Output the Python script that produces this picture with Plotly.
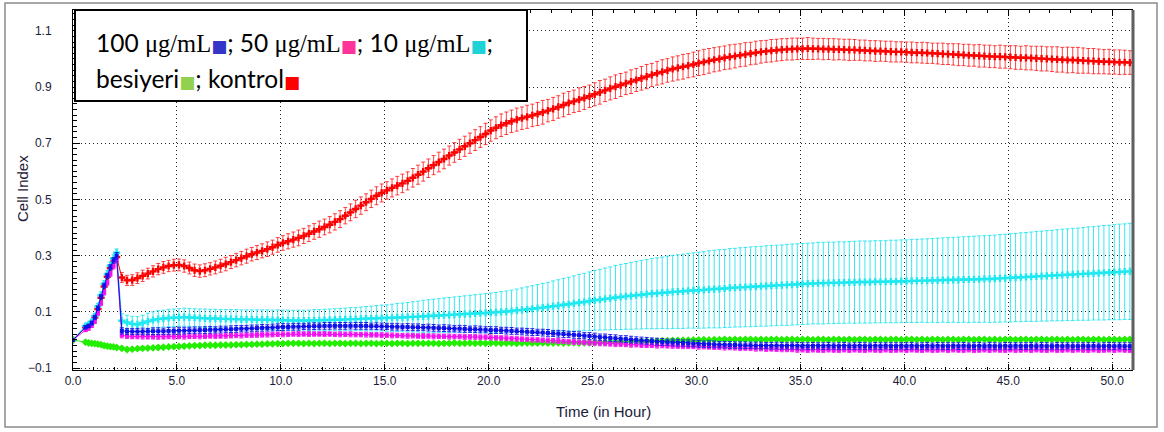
import plotly.graph_objects as go

# ---------------- DATA ----------------
# Early (seeding) phase times in hours, then regular sweeps every 0.25 h
EARLY_TIMES = [0.0, 0.6, 0.75, 0.9, 1.05, 1.2, 1.35, 1.5, 1.65, 1.8, 1.95, 2.1]
SWEEP_START_H = 2.35
SWEEP_STEP_H = 0.25
SWEEP_COUNT = 195
TIMES = EARLY_TIMES + [round(SWEEP_START_H + SWEEP_STEP_H * i, 2) for i in range(SWEEP_COUNT)]

SERIES_NAMES = ["100 μg/mL", "50 μg/mL", "10 μg/mL", "besiyeri", "kontrol"]

# kontrol (red)
KONTROL = [
    0.0, 0.045, 0.05, 0.06, 0.08, 0.11, 0.15, 0.19, 0.225, 0.255, 0.278, 0.295,
    0.222, 0.212, 0.213,
    0.220, 0.228, 0.236, 0.244, 0.252, 0.258, 0.263, 0.266, 0.267, 0.263, 0.256, 0.248,
    0.245, 0.248, 0.253, 0.258, 0.264, 0.270, 0.277, 0.284, 0.291, 0.298, 0.305, 0.311,
    0.317, 0.323, 0.330, 0.338, 0.345, 0.351, 0.357, 0.363, 0.370, 0.378, 0.386, 0.394,
    0.402, 0.410, 0.420, 0.430, 0.442, 0.454, 0.466, 0.478, 0.490, 0.502, 0.513, 0.523,
    0.532, 0.541, 0.549, 0.557, 0.566, 0.577, 0.588, 0.599, 0.611, 0.622, 0.633, 0.644,
    0.656, 0.667, 0.678, 0.689, 0.700, 0.711, 0.722, 0.733, 0.745, 0.755, 0.764, 0.771,
    0.778, 0.784, 0.789, 0.794, 0.799, 0.804, 0.810, 0.816, 0.822, 0.829, 0.836, 0.843,
    0.849, 0.855, 0.861, 0.867, 0.874, 0.881, 0.888, 0.895, 0.901, 0.907, 0.913, 0.919,
    0.925, 0.931, 0.937, 0.943, 0.949, 0.954, 0.959, 0.964, 0.968, 0.972, 0.976, 0.980,
    0.985, 0.989, 0.993, 0.997, 1.000, 1.004, 1.007, 1.010, 1.013, 1.016, 1.019, 1.022,
    1.025, 1.027, 1.029, 1.031, 1.033, 1.034, 1.035, 1.036, 1.036, 1.037, 1.036, 1.036,
    1.035, 1.035, 1.034, 1.034, 1.033, 1.032, 1.032, 1.031, 1.030, 1.029, 1.028, 1.028,
    1.027, 1.026, 1.025, 1.025, 1.024, 1.023, 1.022, 1.022, 1.021, 1.020, 1.019, 1.018,
    1.017, 1.016, 1.015, 1.014, 1.013, 1.012, 1.011, 1.010, 1.009, 1.008, 1.008, 1.007,
    1.006, 1.005, 1.004, 1.004, 1.003, 1.002, 1.001, 1.000, 0.999, 0.998, 0.997, 0.996,
    0.996, 0.995, 0.994, 0.993, 0.992, 0.991, 0.990, 0.990, 0.989, 0.988, 0.988, 0.987,
]
KONTROL_ERR = [
    0.0, 0.008, 0.008, 0.008, 0.009, 0.010, 0.010, 0.012, 0.012, 0.013, 0.014, 0.015,
    0.018, 0.018, 0.019,
    0.019, 0.020, 0.019, 0.020, 0.020, 0.021, 0.020, 0.021, 0.021, 0.022, 0.021, 0.022,
    0.022, 0.023, 0.022, 0.023, 0.023, 0.024, 0.023, 0.024, 0.024, 0.025, 0.024, 0.025,
    0.025, 0.026, 0.025, 0.026, 0.026, 0.027, 0.027, 0.028, 0.027, 0.028, 0.028, 0.029,
    0.028, 0.029, 0.029, 0.030, 0.029, 0.030, 0.031, 0.031, 0.030, 0.031, 0.032, 0.032,
    0.031, 0.032, 0.033, 0.033, 0.032, 0.033, 0.034, 0.034, 0.033, 0.034, 0.035, 0.035,
    0.034, 0.035, 0.036, 0.036, 0.036, 0.037, 0.037, 0.038, 0.038, 0.039, 0.040, 0.040,
    0.040, 0.041, 0.040, 0.041, 0.040, 0.041, 0.042, 0.040, 0.041, 0.040, 0.042, 0.041,
    0.040, 0.042, 0.041, 0.040, 0.041, 0.042, 0.040, 0.041, 0.042, 0.041, 0.040, 0.042,
    0.041, 0.042, 0.043, 0.041, 0.042, 0.043, 0.042, 0.043, 0.043, 0.044, 0.043, 0.044,
    0.044, 0.045, 0.044, 0.043, 0.043, 0.042, 0.043, 0.042, 0.041, 0.042, 0.040, 0.041,
    0.040, 0.039, 0.040, 0.039, 0.039, 0.038, 0.039, 0.038, 0.038, 0.039, 0.038, 0.037,
    0.038, 0.037, 0.038, 0.037, 0.037, 0.038, 0.037, 0.036, 0.037, 0.036, 0.037, 0.036,
    0.036, 0.037, 0.036, 0.036, 0.036, 0.037, 0.036, 0.037, 0.037, 0.036, 0.037, 0.038,
    0.037, 0.038, 0.039, 0.038, 0.039, 0.038, 0.040, 0.039, 0.040, 0.039, 0.041, 0.040,
    0.041, 0.042, 0.041, 0.043, 0.042, 0.043, 0.044, 0.043, 0.044, 0.045, 0.044, 0.046,
    0.045, 0.046, 0.045, 0.044, 0.045, 0.044, 0.043, 0.044, 0.043, 0.044, 0.043, 0.042,
]

# 10 µg/mL (cyan)
DOSE_10 = [
    0.0, 0.05, 0.055, 0.065, 0.085, 0.12, 0.16, 0.20, 0.235, 0.265, 0.29, 0.31,
    0.068, 0.062, 0.057,
    0.055, 0.060, 0.066, 0.071, 0.074, 0.076, 0.078, 0.079, 0.080, 0.081, 0.080, 0.079,
    0.078, 0.077, 0.076, 0.076, 0.075, 0.075, 0.074, 0.074, 0.073, 0.073, 0.073, 0.072,
    0.072, 0.072, 0.071, 0.071, 0.070, 0.070, 0.069, 0.069, 0.069, 0.069, 0.070, 0.070,
    0.071, 0.071, 0.072, 0.072, 0.073, 0.074, 0.074, 0.075, 0.076, 0.076, 0.077, 0.078,
    0.078, 0.079, 0.080, 0.080, 0.081, 0.082, 0.083, 0.084, 0.085, 0.086, 0.087, 0.088,
    0.089, 0.090, 0.091, 0.092, 0.093, 0.094, 0.095, 0.096, 0.097, 0.098, 0.100, 0.101,
    0.103, 0.105, 0.107, 0.109, 0.111, 0.113, 0.115, 0.117, 0.120, 0.122, 0.125, 0.127,
    0.130, 0.133, 0.135, 0.138, 0.141, 0.143, 0.146, 0.148, 0.151, 0.153, 0.155, 0.157,
    0.159, 0.161, 0.163, 0.165, 0.166, 0.168, 0.169, 0.171, 0.172, 0.173, 0.175, 0.176,
    0.177, 0.178, 0.180, 0.181, 0.182, 0.183, 0.185, 0.186, 0.187, 0.188, 0.189, 0.190,
    0.191, 0.192, 0.193, 0.194, 0.195, 0.196, 0.197, 0.198, 0.199, 0.200, 0.201, 0.202,
    0.202, 0.203, 0.203, 0.204, 0.204, 0.205, 0.205, 0.206, 0.206, 0.206, 0.207, 0.207,
    0.207, 0.208, 0.208, 0.209, 0.209, 0.210, 0.210, 0.211, 0.211, 0.212, 0.212, 0.213,
    0.213, 0.214, 0.214, 0.215, 0.215, 0.216, 0.216, 0.217, 0.217, 0.218, 0.219, 0.220,
    0.221, 0.222, 0.223, 0.224, 0.225, 0.226, 0.227, 0.228, 0.229, 0.230, 0.231, 0.232,
    0.233, 0.234, 0.235, 0.236, 0.237, 0.238, 0.239, 0.240, 0.241, 0.242, 0.243, 0.244,
]
DOSE_10_ERR = [
    0.0, 0.006, 0.006, 0.007, 0.008, 0.009, 0.010, 0.011, 0.012, 0.012, 0.013, 0.014,
    0.025, 0.026, 0.027,
    0.028, 0.028, 0.029, 0.029, 0.030, 0.030, 0.031, 0.031, 0.031, 0.032, 0.032, 0.032,
    0.032, 0.033, 0.033, 0.033, 0.033, 0.033, 0.034, 0.034, 0.034, 0.034, 0.034, 0.035,
    0.035, 0.035, 0.035, 0.036, 0.036, 0.036, 0.036, 0.037, 0.037, 0.037, 0.038, 0.038,
    0.038, 0.039, 0.039, 0.040, 0.040, 0.041, 0.041, 0.042, 0.043, 0.044, 0.045, 0.046,
    0.047, 0.048, 0.050, 0.051, 0.052, 0.054, 0.055, 0.057, 0.058, 0.059, 0.060, 0.061,
    0.062, 0.063, 0.064, 0.065, 0.066, 0.067, 0.068, 0.069, 0.070, 0.071, 0.072, 0.073,
    0.074, 0.076, 0.078, 0.080, 0.082, 0.084, 0.086, 0.088, 0.090, 0.092, 0.094, 0.096,
    0.098, 0.100, 0.102, 0.104, 0.106, 0.108, 0.110, 0.112, 0.114, 0.116, 0.117, 0.119,
    0.120, 0.122, 0.123, 0.125, 0.126, 0.127, 0.129, 0.130, 0.131, 0.132, 0.133, 0.134,
    0.135, 0.136, 0.137, 0.138, 0.139, 0.139, 0.140, 0.140, 0.141, 0.141, 0.142, 0.142,
    0.142, 0.143, 0.143, 0.143, 0.143, 0.144, 0.144, 0.144, 0.144, 0.144, 0.144, 0.145,
    0.145, 0.145, 0.145, 0.145, 0.145, 0.145, 0.146, 0.146, 0.146, 0.146, 0.146, 0.146,
    0.146, 0.147, 0.147, 0.147, 0.147, 0.148, 0.148, 0.148, 0.149, 0.149, 0.150, 0.150,
    0.151, 0.151, 0.152, 0.152, 0.153, 0.153, 0.154, 0.154, 0.155, 0.155, 0.156, 0.156,
    0.157, 0.157, 0.158, 0.158, 0.159, 0.160, 0.160, 0.161, 0.161, 0.162, 0.163, 0.163,
    0.164, 0.164, 0.165, 0.166, 0.166, 0.167, 0.168, 0.168, 0.169, 0.170, 0.170, 0.171,
]

# 100 µg/mL (blue)
DOSE_100 = [
    0.0, 0.045, 0.05, 0.06, 0.08, 0.113, 0.153, 0.193, 0.228, 0.258, 0.283, 0.30,
    0.032, 0.030, 0.030,
    0.030, 0.030, 0.030, 0.031, 0.031, 0.031, 0.032, 0.032, 0.033, 0.033, 0.034, 0.034,
    0.035, 0.035, 0.036, 0.036, 0.037, 0.038, 0.038, 0.039, 0.040, 0.040, 0.041, 0.042,
    0.043, 0.043, 0.044, 0.045, 0.046, 0.046, 0.047, 0.047, 0.048, 0.048, 0.049, 0.049,
    0.050, 0.050, 0.050, 0.050, 0.050, 0.050, 0.050, 0.050, 0.050, 0.049, 0.049, 0.048,
    0.048, 0.047, 0.047, 0.046, 0.046, 0.045, 0.045, 0.044, 0.044, 0.043, 0.042, 0.042,
    0.041, 0.040, 0.040, 0.039, 0.038, 0.038, 0.037, 0.036, 0.035, 0.035, 0.034, 0.033,
    0.032, 0.031, 0.030, 0.029, 0.028, 0.027, 0.026, 0.025, 0.023, 0.022, 0.021, 0.020,
    0.018, 0.017, 0.015, 0.014, 0.012, 0.010, 0.009, 0.007, 0.006, 0.004, 0.003, 0.001,
    0.000, -0.002, -0.003, -0.004, -0.006, -0.007, -0.008, -0.009, -0.010, -0.011, -0.012, -0.013,
    -0.014, -0.015, -0.015, -0.016, -0.017, -0.017, -0.018, -0.018, -0.019, -0.019, -0.019, -0.020,
    -0.020, -0.020, -0.021, -0.020, -0.021, -0.021, -0.020, -0.021, -0.021, -0.022, -0.021, -0.021,
    -0.022, -0.021, -0.022, -0.022, -0.021, -0.022, -0.022, -0.021, -0.022, -0.022, -0.021, -0.022,
    -0.021, -0.022, -0.022, -0.021, -0.022, -0.021, -0.022, -0.022, -0.021, -0.022, -0.021, -0.022,
    -0.022, -0.021, -0.022, -0.021, -0.022, -0.022, -0.021, -0.022, -0.021, -0.022, -0.022, -0.021,
    -0.022, -0.021, -0.022, -0.022, -0.021, -0.022, -0.021, -0.022, -0.022, -0.021, -0.022, -0.021,
    -0.022, -0.022, -0.021, -0.022, -0.021, -0.022, -0.022, -0.021, -0.022, -0.021, -0.022, -0.022,
]
DOSE_100_ERR = [
    0.0, 0.006, 0.006, 0.007, 0.007, 0.008, 0.008, 0.009, 0.009, 0.010, 0.010, 0.011,
    0.011, 0.011, 0.011,
    0.011, 0.012, 0.011, 0.012, 0.012, 0.011, 0.012, 0.011, 0.012, 0.012, 0.011, 0.012,
    0.011, 0.012, 0.012, 0.011, 0.012, 0.011, 0.012, 0.012, 0.011, 0.012, 0.012, 0.011,
    0.012, 0.011, 0.012, 0.012, 0.012, 0.011, 0.012, 0.012, 0.011, 0.012, 0.012, 0.011,
    0.012, 0.012, 0.011, 0.012, 0.012, 0.011, 0.012, 0.012, 0.012, 0.011, 0.012, 0.012,
    0.011, 0.012, 0.012, 0.011, 0.012, 0.012, 0.012, 0.011, 0.012, 0.012, 0.011, 0.012,
    0.012, 0.011, 0.012, 0.012, 0.011, 0.012, 0.012, 0.011, 0.012, 0.012, 0.011, 0.012,
    0.012, 0.011, 0.012, 0.012, 0.012, 0.011, 0.012, 0.012, 0.011, 0.012, 0.012, 0.011,
    0.012, 0.012, 0.011, 0.012, 0.012, 0.011, 0.012, 0.012, 0.012, 0.011, 0.012, 0.012,
    0.011, 0.012, 0.012, 0.011, 0.012, 0.012, 0.011, 0.012, 0.012, 0.011, 0.012, 0.012,
    0.012, 0.011, 0.012, 0.012, 0.011, 0.012, 0.012, 0.011, 0.012, 0.012, 0.011, 0.012,
    0.012, 0.011, 0.012, 0.012, 0.012, 0.011, 0.012, 0.012, 0.011, 0.012, 0.012, 0.011,
    0.012, 0.012, 0.011, 0.012, 0.012, 0.011, 0.012, 0.012, 0.012, 0.011, 0.012, 0.012,
    0.011, 0.012, 0.012, 0.011, 0.012, 0.012, 0.011, 0.012, 0.012, 0.011, 0.012, 0.012,
    0.012, 0.011, 0.012, 0.012, 0.011, 0.012, 0.012, 0.011, 0.012, 0.012, 0.011, 0.012,
    0.012, 0.011, 0.012, 0.012, 0.012, 0.011, 0.012, 0.012, 0.011, 0.012, 0.012, 0.011,
    0.012, 0.012, 0.011, 0.012, 0.012, 0.011, 0.012, 0.012, 0.012, 0.011, 0.012, 0.012,
]

# 50 µg/mL (magenta)
DOSE_50 = [
    0.0, 0.035, 0.04, 0.05, 0.065, 0.095, 0.13, 0.168, 0.203, 0.235, 0.262, 0.285,
    0.016, 0.013, 0.012,
    0.012, 0.012, 0.011, 0.011, 0.011, 0.011, 0.012, 0.012, 0.012, 0.012, 0.013, 0.013,
    0.013, 0.013, 0.014, 0.014, 0.014, 0.015, 0.015, 0.016, 0.016, 0.017, 0.017, 0.018,
    0.018, 0.019, 0.019, 0.020, 0.020, 0.020, 0.021, 0.021, 0.021, 0.021, 0.021, 0.021,
    0.021, 0.021, 0.020, 0.020, 0.020, 0.020, 0.019, 0.019, 0.019, 0.018, 0.018, 0.017,
    0.017, 0.016, 0.016, 0.015, 0.015, 0.015, 0.014, 0.014, 0.014, 0.013, 0.013, 0.013,
    0.012, 0.012, 0.012, 0.011, 0.011, 0.011, 0.010, 0.010, 0.009, 0.008, 0.007, 0.006,
    0.005, 0.004, 0.003, 0.002, 0.001, 0.000, -0.001, -0.002, -0.003, -0.004, -0.005, -0.006,
    -0.007, -0.008, -0.009, -0.010, -0.011, -0.012, -0.013, -0.014, -0.015, -0.015, -0.016, -0.017,
    -0.017, -0.018, -0.019, -0.019, -0.020, -0.020, -0.021, -0.021, -0.022, -0.022, -0.023, -0.023,
    -0.024, -0.024, -0.025, -0.025, -0.026, -0.027, -0.027, -0.028, -0.029, -0.029, -0.030, -0.031,
    -0.031, -0.032, -0.032, -0.033, -0.033, -0.034, -0.034, -0.035, -0.035, -0.036, -0.035, -0.036,
    -0.036, -0.035, -0.036, -0.036, -0.035, -0.036, -0.035, -0.036, -0.036, -0.035, -0.036, -0.036,
    -0.035, -0.036, -0.036, -0.035, -0.036, -0.035, -0.036, -0.036, -0.035, -0.036, -0.036, -0.035,
    -0.036, -0.035, -0.036, -0.036, -0.035, -0.036, -0.036, -0.035, -0.036, -0.035, -0.036, -0.036,
    -0.035, -0.036, -0.036, -0.035, -0.036, -0.035, -0.036, -0.036, -0.035, -0.036, -0.036, -0.035,
    -0.036, -0.035, -0.036, -0.036, -0.035, -0.036, -0.036, -0.035, -0.036, -0.035, -0.036, -0.036,
]
DOSE_50_ERR = [
    0.0, 0.005, 0.005, 0.006, 0.006, 0.007, 0.007, 0.008, 0.008, 0.009, 0.009, 0.010,
    0.009, 0.008, 0.008,
    0.008, 0.009, 0.008, 0.008, 0.009, 0.008, 0.008, 0.009, 0.008, 0.009, 0.008, 0.008,
    0.009, 0.008, 0.008, 0.009, 0.008, 0.009, 0.008, 0.008, 0.009, 0.008, 0.008, 0.009,
    0.008, 0.009, 0.008, 0.008, 0.009, 0.008, 0.008, 0.009, 0.008, 0.009, 0.008, 0.008,
    0.009, 0.008, 0.008, 0.009, 0.008, 0.009, 0.008, 0.008, 0.009, 0.008, 0.008, 0.009,
    0.008, 0.009, 0.008, 0.008, 0.009, 0.008, 0.008, 0.009, 0.008, 0.009, 0.008, 0.008,
    0.009, 0.008, 0.008, 0.009, 0.008, 0.009, 0.008, 0.008, 0.009, 0.008, 0.008, 0.009,
    0.008, 0.009, 0.008, 0.008, 0.009, 0.008, 0.008, 0.009, 0.008, 0.009, 0.008, 0.008,
    0.009, 0.008, 0.008, 0.009, 0.008, 0.009, 0.008, 0.008, 0.009, 0.008, 0.008, 0.009,
    0.008, 0.009, 0.008, 0.008, 0.009, 0.008, 0.008, 0.009, 0.008, 0.009, 0.008, 0.008,
    0.009, 0.008, 0.008, 0.009, 0.008, 0.009, 0.008, 0.008, 0.009, 0.008, 0.008, 0.009,
    0.008, 0.009, 0.008, 0.008, 0.009, 0.008, 0.008, 0.009, 0.008, 0.009, 0.008, 0.008,
    0.009, 0.008, 0.008, 0.009, 0.008, 0.009, 0.008, 0.008, 0.009, 0.008, 0.008, 0.009,
    0.008, 0.009, 0.008, 0.008, 0.009, 0.008, 0.008, 0.009, 0.008, 0.009, 0.008, 0.008,
    0.009, 0.008, 0.008, 0.009, 0.008, 0.009, 0.008, 0.008, 0.009, 0.008, 0.008, 0.009,
    0.008, 0.009, 0.008, 0.008, 0.009, 0.008, 0.008, 0.009, 0.008, 0.009, 0.008, 0.008,
    0.009, 0.008, 0.008, 0.009, 0.008, 0.009, 0.008, 0.008, 0.009, 0.008, 0.008, 0.009,
]

# besiyeri / medium (green)
BESIYERI = [
    0.0, -0.008, -0.011, -0.012, -0.013, -0.015, -0.017, -0.020, -0.022, -0.024, -0.025, -0.027,
    -0.030, -0.034, -0.033,
    -0.031, -0.030, -0.029, -0.028, -0.027, -0.026, -0.025, -0.024, -0.023, -0.022, -0.021, -0.020,
    -0.020, -0.019, -0.019, -0.019, -0.018, -0.018, -0.018, -0.017, -0.017, -0.016, -0.016, -0.015,
    -0.015, -0.014, -0.014, -0.013, -0.013, -0.012, -0.012, -0.012, -0.013, -0.012, -0.013, -0.012,
    -0.012, -0.013, -0.012, -0.012, -0.013, -0.012, -0.012, -0.013, -0.012, -0.012, -0.013, -0.012,
    -0.012, -0.013, -0.012, -0.012, -0.013, -0.012, -0.012, -0.012, -0.012, -0.012, -0.013, -0.012,
    -0.012, -0.011, -0.012, -0.012, -0.011, -0.012, -0.011, -0.012, -0.011, -0.011, -0.012, -0.011,
    -0.011, -0.012, -0.011, -0.011, -0.011, -0.011, -0.010, -0.011, -0.011, -0.010, -0.011, -0.010,
    -0.010, -0.011, -0.010, -0.010, -0.010, -0.009, -0.009, -0.008, -0.008, -0.007, -0.007, -0.006,
    -0.006, -0.005, -0.005, -0.004, -0.004, -0.003, -0.003, -0.002, -0.002, -0.001, -0.001, 0.000,
    0.000, 0.001, 0.000, 0.001, 0.001, 0.002, 0.001, 0.002, 0.001, 0.002, 0.002, 0.001,
    0.002, 0.001, 0.002, 0.002, 0.001, 0.002, 0.002, 0.001, 0.002, 0.002, 0.001, 0.002,
    0.002, 0.001, 0.002, 0.002, 0.001, 0.002, 0.001, 0.002, 0.002, 0.001, 0.002, 0.002,
    0.001, 0.002, 0.002, 0.001, 0.002, 0.002, 0.001, 0.002, 0.001, 0.002, 0.002, 0.001,
    0.002, 0.002, 0.001, 0.002, 0.002, 0.001, 0.002, 0.002, 0.001, 0.002, 0.001, 0.002,
    0.002, 0.001, 0.002, 0.002, 0.001, 0.002, 0.002, 0.001, 0.002, 0.002, 0.001, 0.002,
    0.001, 0.002, 0.002, 0.001, 0.002, 0.002, 0.001, 0.002, 0.002, 0.001, 0.002, 0.002,
]
BESIYERI_ERR = [
    0.0, 0.004, 0.004, 0.004, 0.004, 0.005, 0.005, 0.005, 0.005, 0.005, 0.005, 0.005,
    0.006, 0.006, 0.005,
    0.005, 0.006, 0.005, 0.005, 0.006, 0.005, 0.005, 0.006, 0.005, 0.006, 0.005, 0.005,
    0.006, 0.005, 0.005, 0.006, 0.005, 0.006, 0.005, 0.005, 0.006, 0.005, 0.005, 0.006,
    0.005, 0.006, 0.005, 0.005, 0.006, 0.005, 0.005, 0.006, 0.005, 0.006, 0.005, 0.005,
    0.006, 0.005, 0.005, 0.006, 0.005, 0.006, 0.005, 0.005, 0.006, 0.005, 0.005, 0.006,
    0.005, 0.006, 0.005, 0.005, 0.006, 0.005, 0.005, 0.006, 0.005, 0.006, 0.005, 0.005,
    0.006, 0.005, 0.005, 0.006, 0.005, 0.006, 0.005, 0.005, 0.006, 0.005, 0.005, 0.006,
    0.005, 0.006, 0.005, 0.005, 0.006, 0.005, 0.005, 0.006, 0.005, 0.006, 0.005, 0.005,
    0.006, 0.005, 0.005, 0.006, 0.005, 0.006, 0.005, 0.005, 0.006, 0.005, 0.005, 0.006,
    0.005, 0.006, 0.005, 0.005, 0.006, 0.005, 0.005, 0.006, 0.005, 0.006, 0.005, 0.005,
    0.006, 0.005, 0.005, 0.006, 0.005, 0.006, 0.005, 0.005, 0.006, 0.005, 0.005, 0.006,
    0.005, 0.006, 0.005, 0.005, 0.006, 0.005, 0.005, 0.006, 0.005, 0.006, 0.005, 0.005,
    0.006, 0.005, 0.005, 0.006, 0.005, 0.006, 0.005, 0.005, 0.006, 0.005, 0.005, 0.006,
    0.005, 0.006, 0.005, 0.005, 0.006, 0.005, 0.005, 0.006, 0.005, 0.006, 0.005, 0.005,
    0.006, 0.005, 0.005, 0.006, 0.005, 0.006, 0.005, 0.005, 0.006, 0.005, 0.005, 0.006,
    0.005, 0.006, 0.005, 0.005, 0.006, 0.005, 0.005, 0.006, 0.005, 0.006, 0.005, 0.005,
    0.006, 0.005, 0.005, 0.006, 0.005, 0.006, 0.005, 0.005, 0.006, 0.005, 0.005, 0.006,
]

X_TICKS = [0, 5, 10, 15, 20, 25, 30, 35, 40, 45, 50]
Y_TICKS = [-0.1, 0.1, 0.3, 0.5, 0.7, 0.9, 1.1]

# ---------------- FIGURE ----------------
fig = go.Figure()


def add_series(y, err, name, line_color, err_color, symbol, size):
    n = min(len(TIMES), len(y), len(err))
    fig.add_trace(go.Scatter(
        x=TIMES[:n], y=y[:n], name=name, mode="lines+markers",
        line=dict(color=line_color, width=1),
        marker=dict(symbol=symbol, size=size, color=line_color, line=dict(width=0)),
        error_y=dict(type="data", array=err[:n], visible=True,
                     color=err_color, thickness=1, width=2),
        showlegend=False,
    ))


add_series(KONTROL, KONTROL_ERR, SERIES_NAMES[4], "#ff0000", "rgba(255,20,20,0.8)", "cross", 6)
add_series(DOSE_10, DOSE_10_ERR, SERIES_NAMES[2], "#1ee8f0", "rgba(40,230,240,0.9)", "cross", 6)
add_series(BESIYERI, BESIYERI_ERR, SERIES_NAMES[3], "#22ee00", "#33ee11", "diamond", 6)
add_series(DOSE_50, DOSE_50_ERR, SERIES_NAMES[1], "#f010f0", "#f030f0", "square", 4)
add_series(DOSE_100, DOSE_100_ERR, SERIES_NAMES[0], "#1010e8", "#2020ee", "square", 4)

L, R, T, B = 73, 31, 10, 62
W, H = 1164, 432
PW, PH = W - L - R, H - T - B


def px(xp):
    return (xp - L) / PW


def py(yp):
    return (H - B - yp) / PH


tick_font = dict(family="Liberation Sans, Arial, sans-serif", size=12, color="#1c1c38")

fig.update_layout(
    width=W, height=H,
    margin=dict(l=L, r=R, t=T, b=B, autoexpand=False),
    paper_bgcolor="white", plot_bgcolor="white",
    xaxis=dict(
        range=[0, 51.0], tickvals=X_TICKS, tickformat=".1f",
        ticks="inside", ticklen=6, tickcolor="black", tickwidth=1,
        showline=True, linecolor="black", linewidth=1, mirror="allticks",
        showgrid=True, gridcolor="#222222", gridwidth=1, griddash="1px,3px",
        zeroline=False, tickfont=tick_font,
        minor=dict(dtick=1, tick0=0, ticks="inside", ticklen=3, tickcolor="black", showgrid=False),
    ),
    yaxis=dict(
        range=[-0.107, 1.174], tickvals=Y_TICKS, tickformat=".1f",
        ticks="inside", ticklen=7, tickcolor="black", tickwidth=1,
        showline=True, linecolor="black", linewidth=1,
        showgrid=True, gridcolor="#222222", gridwidth=1, griddash="1px,3px",
        zeroline=False, tickfont=tick_font, ticklabelstandoff=18,
        minor=dict(dtick=0.02, tick0=-0.1, ticks="inside", ticklen=4, tickcolor="black", showgrid=False),
    ),
)

shapes = [
    # right frame edge (thick grey)
    dict(type="line", xref="paper", yref="paper", x0=1, x1=1, y0=0, y1=1,
         line=dict(color="#5f5f5f", width=3)),
    # outer image border
    dict(type="rect", xref="paper", yref="paper", x0=px(5), x1=px(1157), y0=py(427), y1=py(3),
         line=dict(color="#8c8c8c", width=1.5), fillcolor="rgba(0,0,0,0)", layer="below"),
    # legend box
    dict(type="rect", xref="paper", yref="paper", x0=px(75), x1=px(527), y0=py(101), y1=py(10),
         line=dict(color="black", width=2), fillcolor="white"),
]
fig.update_layout(shapes=shapes)

serif = "font-family:'Liberation Serif', 'DejaVu Serif', serif"
sq = "font-size:17px;font-family:'DejaVu Sans'"
line1 = (f"100 <span style=\"{serif}\">μg/mL</span><span style=\"color:#3535c8;{sq}\">■</span>; "
         f"50 <span style=\"{serif}\">μg/mL</span><span style=\"color:#ff3399;{sq}\">■</span>; "
         f"10 <span style=\"{serif}\">μg/mL</span><span style=\"color:#1ed2d8;{sq}\">■</span>;")
line2 = (f"besiyeri<span style=\"color:#92d050;{sq}\">■</span>; "
         f"kontrol<span style=\"color:#ff0000;{sq}\">■</span>")

legend_font = dict(family="Lato, 'Open Sans', sans-serif", size=24.5, color="black")
annotations = [
    dict(text=line1, xref="paper", yref="paper", x=px(94), y=py(42),
         xanchor="left", yanchor="middle", showarrow=False, font=legend_font),
    dict(text=line2, xref="paper", yref="paper", x=px(94), y=py(78),
         xanchor="left", yanchor="middle", showarrow=False, font=legend_font),
    dict(text="Cell Index", xref="paper", yref="paper", x=px(22), y=py(189),
         xanchor="center", yanchor="middle", textangle=-90, showarrow=False,
         font=dict(family="Liberation Sans, Arial, sans-serif", size=15, color="#1c1c38")),
    dict(text="Time (in Hour)", xref="paper", yref="paper", x=px(603), y=py(411),
         xanchor="center", yanchor="middle", showarrow=False,
         font=dict(family="Liberation Sans, Arial, sans-serif", size=15, color="#1c1c38")),
]
fig.update_layout(annotations=annotations)

fig.write_html("out.html")
